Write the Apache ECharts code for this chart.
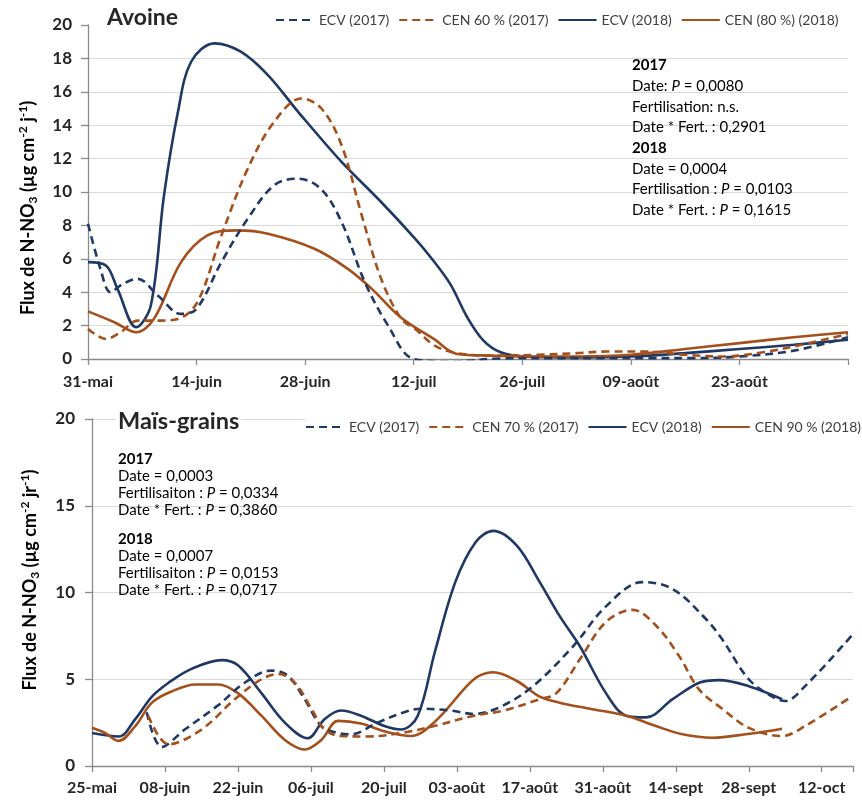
<!DOCTYPE html>
<html><head><meta charset="utf-8">
<script src="https://cdn.jsdelivr.net/npm/echarts@6/dist/echarts.min.js"></script>
<style>html,body{margin:0;padding:0;background:#fff}#c{width:862px;height:800px}</style>
</head><body><div id="c"></div>
<script>
// ---- tick labels (day offsets, step 14 days) ----
const avoineTicks = ['31-mai','14-juin','28-juin','12-juil','26-juil','09-août','23-août',''];
const maisTicks = ['25-mai','08-juin','22-juin','06-juil','20-juil','03-août','17-août','31-août','14-sept','28-sept','12-oct'];

// ---- Avoine: [day from 31-mai, flux] ----
const avoineECV2017 = [[0,8.1],[1.6,5.4],[2.9,4.0],[4.5,4.5],[6.4,4.8],[9,3.8],[12,2.7],[14,3.0],[17.2,5.8],[20.6,8.4],[24,10.4],[27,10.8],[30,10.2],[32.7,8.2],[35.7,4.6],[38.7,2.0],[42,0],[47,-0.15],[53,0.03],[60,0.05],[66,0.05],[72,0.05],[78,0.05],[84,0.15],[91,0.5],[98,1.3]];
const avoineCEN2017 = [[0,1.8],[2.3,1.2],[4.2,1.6],[6.4,2.3],[9,2.3],[11.6,2.4],[14.1,3.4],[17.2,7.4],[20.6,11.4],[24,14.2],[27.5,15.6],[30.1,15.0],[32.7,12.8],[35.3,8.6],[37.8,4.8],[40.4,2.4],[42.2,1.8],[44.7,0.8],[47.6,0.35],[52,0.2],[58,0.25],[63,0.35],[67,0.45],[72,0.45],[77,0.25],[82,0.15],[87,0.4],[92,0.85],[98,1.5]];
const avoineECV2018 = [[0,5.8],[2.3,5.6],[3.8,4.2],[6.2,1.9],[8.1,3.2],[9.8,9.8],[11.6,14.8],[13.3,17.8],[16.3,18.9],[19.7,18.4],[23.2,17],[27.1,14.8],[32.7,11.8],[37.8,9.4],[42,7.3],[44,6.2],[46.7,4.5],[48.9,2.5],[51,1.1],[53.2,0.4],[56.2,0.15],[63,0.1],[70,0.15],[77,0.35],[84,0.6],[91,0.85],[98,1.15]];
const avoineCEN2018 = [[0,2.85],[3.4,2.2],[6.2,1.6],[8.5,2.4],[12,5.8],[15.4,7.4],[19.3,7.7],[23.2,7.5],[29.2,6.6],[33.5,5.4],[36.6,4.2],[40.3,2.5],[44.6,1.2],[47.6,0.3],[52,0.2],[56,0.15],[63,0.15],[70,0.25],[77,0.6],[84,0.95],[91,1.3],[98,1.6]];

// ---- Maïs-grains: [day from 25-mai, flux] ----
const maisECV2017 = [[10.5,3.1],[13.4,1.1],[17.8,2.1],[24.2,3.5],[29.3,4.8],[34.4,5.5],[37.6,5.2],[40.8,3.85],[44,2.3],[47.2,1.9],[49.7,1.83],[54.8,2.5],[59.9,3.1],[63.1,3.3],[68.8,3.2],[73.2,3.0],[78.3,3.4],[84.6,4.6],[92.3,6.9],[98.6,9.2],[105.6,10.6],[111.4,10.2],[117.7,8.5],[120.9,7.3],[126,5.0],[130.5,4.0],[133,3.75],[136.8,4.6],[145.7,7.5]];
const maisCEN2017 = [[10.8,2.9],[14.7,1.25],[21,2.1],[27.4,3.85],[32.5,5.0],[35.7,5.3],[38.9,4.8],[42.1,3.3],[44.6,2.1],[47.8,1.73],[52.9,1.7],[59.3,1.9],[65.6,2.3],[73.3,2.9],[79,3.2],[85.9,3.85],[89.1,4.2],[93.6,6.15],[98.6,8.3],[103.7,9.0],[108.2,8.1],[112.6,6.35],[116.5,4.4],[120.9,3.3],[126,2.2],[132.4,1.73],[136.8,2.3],[145.7,4.0]];
const maisECV2018 = [[0,1.9],[5.1,1.7],[8.3,2.7],[11.5,4.0],[14.7,4.8],[19.1,5.6],[24.9,6.1],[28,5.8],[32.5,4.2],[37,2.5],[41.4,1.6],[44.6,2.7],[47.8,3.2],[51.6,2.9],[56.1,2.3],[59.3,2.1],[62.5,2.9],[65.8,6.6],[69.7,10.6],[73.6,12.9],[77,13.55],[81.5,12.7],[85.9,10.6],[89.7,8.65],[93.6,6.9],[98.6,4.2],[102.5,2.9],[106.3,2.8],[111.4,3.85],[116.5,4.8],[120.3,4.95],[126,4.6],[132.4,3.85]];
const maisCEN2018 = [[0,2.2],[2.5,1.9],[5.1,1.45],[8.3,2.3],[11.5,3.65],[15.3,4.3],[19.8,4.7],[24.2,4.7],[28,4.2],[32.5,2.9],[37,1.5],[40.8,0.95],[44,1.5],[47.2,2.6],[51.6,2.45],[56.1,2.0],[61.2,1.73],[65.6,2.5],[71.9,4.6],[74,5.15],[77,5.4],[81.5,4.9],[85.9,4.0],[89.7,3.65],[95.5,3.3],[102.5,2.9],[108.2,2.3],[113.3,1.83],[119,1.63],[125.4,1.83],[132.4,2.15]];

const NAVY = '#203864', BROWN = '#a4501c';
const FONT = 'Lato';
const TXT = '#262626';

function mk(name, data, color, dashed, idx) {
  return {
    type: 'line', name, data, xAxisIndex: idx, yAxisIndex: idx,
    smooth: 0.35, symbol: 'none', clip: true,
    lineStyle: { color, width: 2.6, type: dashed ? [8, 5] : 'solid' },
    itemStyle: { color }, emphasis: { disabled: true }
  };
}
function xAx(idx, labels, max, margin) {
  return {
    type: 'value', gridIndex: idx, min: 0, max, interval: 14,
    axisLine: { show: true, lineStyle: { color: '#8a8a8a', width: 1.3 } },
    axisTick: { show: true, length: 6, lineStyle: { color: '#8a8a8a', width: 1.3 } },
    splitLine: { show: false },
    axisLabel: {
      margin, fontFamily: FONT, fontSize: 16, fontWeight: 'bold', color: TXT,
      formatter: v => { const i = v / 14; return Number.isInteger(i) ? (labels[i] || '') : ''; },
      showMaxLabel: true
    }
  };
}
function yAx(idx, interval, margin, gridColors) {
  return {
    type: 'value', gridIndex: idx, min: 0, max: 20, interval,
    axisLine: { show: true, lineStyle: { color: '#8a8a8a', width: 1.3 } },
    axisTick: { show: true, length: 7, lineStyle: { color: '#8a8a8a', width: 1.3 } },
    splitLine: { show: true, lineStyle: { color: gridColors, width: 1 } },
    axisLabel: { margin, fontFamily: FONT, fontSize: 17, fontWeight: 'bold', color: TXT }
  };
}
const legendText = { fontFamily: FONT, fontSize: 14, color: '#404040' };
const legendCommon = {
  itemWidth: 38, itemHeight: 12, itemGap: 9, padding: [2, 0], width: 600,
  backgroundColor: '#fff', textStyle: legendText, itemStyle: { opacity: 0 }
};

const topGrid = ['#d9d9d9','#d9d9d9','#d9d9d9','#d9d9d9','#d9d9d9','#d9d9d9','#d9d9d9','#d9d9d9','#d9d9d9','#d9d9d9','rgba(0,0,0,0)'];

const option = {
  animation: false,
  backgroundColor: '#fff',
  grid: [
    { left: 88, right: 14, top: 25, height: 334, containLabel: false },
    { left: 92, right: 9, top: 419, height: 347, containLabel: false }
  ],
  xAxis: [xAx(0, avoineTicks, 98, 15), xAx(1, maisTicks, 146, 14)],
  yAxis: [yAx(0, 2, 16, topGrid), yAx(1, 5, 17, '#d9d9d9')],
  legend: [
    Object.assign({ left: 275, top: 11,
      data: ['ECV (2017)', 'CEN 60 % (2017)', 'ECV (2018)', 'CEN (80 %) (2018)'] }, legendCommon),
    Object.assign({ left: 305, top: 418,
      data: ['ECV (2017)', 'CEN 70 % (2017)', 'ECV (2018)', 'CEN 90 % (2018)'] }, legendCommon)
  ],
  title: [
    { text: 'Avoine', left: 105, top: 6, padding: [0, 2], backgroundColor: '#fff',
      textStyle: { fontFamily: FONT, fontSize: 23, fontWeight: 'bold', color: TXT } },
    { text: 'Maïs-grains', left: 116, top: 409, padding: [0, 2], backgroundColor: '#fff',
      textStyle: { fontFamily: FONT, fontSize: 23.5, fontWeight: 'bold', color: TXT } }
  ],
  series: [
    mk('ECV (2018)', avoineECV2018, NAVY, false, 0),
    mk('CEN (80 %) (2018)', avoineCEN2018, BROWN, false, 0),
    mk('ECV (2017)', avoineECV2017, NAVY, true, 0),
    mk('CEN 60 % (2017)', avoineCEN2017, BROWN, true, 0),
    mk('ECV (2018)', maisECV2018, NAVY, false, 1),
    mk('CEN 90 % (2018)', maisCEN2018, BROWN, false, 1),
    mk('ECV (2017)', maisECV2017, NAVY, true, 1),
    mk('CEN 70 % (2017)', maisCEN2017, BROWN, true, 1)
  ],
  graphic: []
};

const annoRich = {
  b: { fontFamily: FONT, fontSize: 15, fontWeight: 'bold', color: TXT },
  n: { fontFamily: FONT, fontSize: 15, color: '#404040' },
  i: { fontFamily: FONT, fontSize: 15, fontStyle: 'italic', color: '#404040' }
};
function anno(x, y, text, lh) {
  const rich = {};
  for (const k in annoRich) rich[k] = Object.assign({ lineHeight: lh }, annoRich[k]);
  return { type: 'text', left: x, top: y, z: 100, style: { text, rich, lineHeight: lh } };
}
function yName(cx, cy, unitJ) {
  const base = { fontFamily: FONT, fontSize: 18, fontWeight: 'bold', color: TXT, lineHeight: 22 };
  const small = { fontFamily: FONT, fontSize: 12, fontWeight: 'bold', color: TXT, lineHeight: 22 };
  return {
    type: 'text', x: cx, y: cy, rotation: Math.PI / 2, z: 100,
    style: {
      text: '{a|Flux de N-NO}{sub|3}{a| (µg cm}{sup|-2}{a| ' + unitJ + '}{sup|-1}{a|)}',
      align: 'center', verticalAlign: 'middle',
      rich: { a: base, sub: Object.assign({}, small, { verticalAlign: 'bottom' }), sup: Object.assign({}, small, { verticalAlign: 'top' }) }
    }
  };
}
option.graphic = [
  anno(632, 55, '{b|2017}\n{n|Date: }{i|P}{n| = 0,0080}\n{n|Fertilisation: n.s.}\n{n|Date * Fert. : 0,2901}\n{b|2018}\n{n|Date = 0,0004}\n{n|Fertilisation : }{i|P}{n| = 0,0103}\n{n|Date * Fert. : }{i|P}{n| = 0,1615}', 20.7),
  anno(118, 451, '{b|2017}\n{n|Date = 0,0003}\n{n|Fertilisaiton : }{i|P}{n| = 0,0334}\n{n|Date * Fert. : }{i|P}{n| = 0,3860}', 17),
  anno(118, 531, '{b|2018}\n{n|Date = 0,0007}\n{n|Fertilisaiton : }{i|P}{n| = 0,0153}\n{n|Date * Fert. : }{i|P}{n| = 0,0717}', 17),
  yName(28, 208, 'j'),
  yName(30, 580, 'jr')
];

const chart = echarts.init(document.getElementById('c'), null, { renderer: 'canvas' });
chart.setOption(option);
</script>
</body></html>
